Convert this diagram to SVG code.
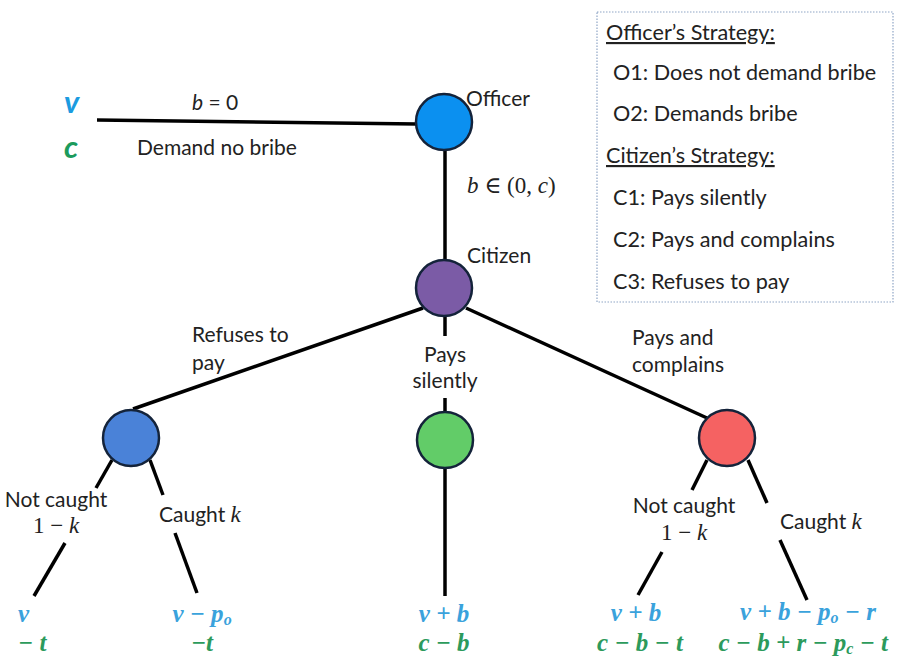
<svg xmlns="http://www.w3.org/2000/svg" width="897" height="660" viewBox="0 0 897 660">
<style>
.lbl{font-family:Lato,"Open Sans","Liberation Sans",sans-serif;font-size:21px;fill:#222}
.box{font-family:Lato,"Open Sans","Liberation Sans",sans-serif;font-size:21.6px;fill:#222}
.m{font-family:"Liberation Serif","DejaVu Serif",serif;font-size:23px;fill:#222}
.i{font-style:italic}
.pay{font-family:"Liberation Serif","DejaVu Serif",serif;font-size:25px;font-weight:bold;font-style:italic}
.pb{fill:#3AA2DC}
.pg{fill:#2C9A5C}
.edge{stroke:#000;stroke-width:3.5;fill:none;stroke-linecap:butt}
.node{stroke:#14233a;stroke-width:2.5}
.vc{font-family:Lato,"Liberation Sans",sans-serif;font-size:31px;font-weight:bold;font-style:italic}
</style>
<rect x="0" y="0" width="897" height="660" fill="#fff"/>

<g id="connectors">
<line class="edge" x1="97" y1="120" x2="417" y2="124"/>
<line class="edge" x1="445" y1="150" x2="445" y2="260"/>
<line class="edge" x1="423" y1="308" x2="133" y2="409"/>
<line class="edge" x1="466" y1="308" x2="707" y2="418"/>
<line class="edge" x1="445" y1="316" x2="445" y2="336"/>
<line class="edge" x1="445" y1="398" x2="445" y2="412"/>
<line class="edge" x1="445" y1="469" x2="445" y2="596"/>
<line class="edge" x1="112" y1="460" x2="96" y2="488"/>
<line class="edge" x1="65" y1="543" x2="34" y2="596"/>
<line class="edge" x1="150" y1="460" x2="163" y2="495"/>
<line class="edge" x1="175" y1="533" x2="197" y2="593"/>
<line class="edge" x1="707" y1="460" x2="692" y2="490"/>
<line class="edge" x1="662" y1="552" x2="638" y2="595"/>
<line class="edge" x1="748" y1="460" x2="767" y2="503"/>
<line class="edge" x1="780" y1="540" x2="807" y2="600"/>
</g>

<g id="officer">
<circle class="node" cx="444" cy="122" r="28" fill="#0B90F0"/>
<text class="lbl" x="466" y="106">Officer</text>
</g>
<g id="citizen">
<circle class="node" cx="444" cy="288" r="28" fill="#7B5BA6"/>
<text class="lbl" x="467" y="263">Citizen</text>
</g>
<g id="refuse-node">
<circle class="node" cx="131" cy="438" r="28" fill="#4A82D8"/>
</g>
<g id="silent-node">
<circle class="node" cx="445" cy="440" r="28" fill="#62CC68"/>
</g>
<g id="complain-node">
<circle class="node" cx="727" cy="438" r="28" fill="#F56262"/>
</g>

<g id="edge-labels">
<text class="vc" x="64" y="113" fill="#1B9BE0">v</text>
<text class="vc" x="64" y="158" fill="#1C9B5C">c</text>
<text class="lbl" x="192" y="110"><tspan class="i">b</tspan> = 0</text>
<text class="lbl" x="137" y="155">Demand no bribe</text>
<text class="m" x="467" y="193"><tspan class="i">b</tspan> ∈ (0, <tspan class="i">c</tspan>)</text>
<text class="lbl" x="192" y="342">Refuses to</text>
<text class="lbl" x="192" y="370">pay</text>
<text class="lbl" x="445" y="362" text-anchor="middle">Pays</text>
<text class="lbl" x="445" y="388" text-anchor="middle">silently</text>
<text class="lbl" x="632" y="345">Pays and</text>
<text class="lbl" x="632" y="372">complains</text>
<text class="lbl" x="56" y="507" text-anchor="middle">Not caught</text>
<text class="m" x="56" y="533" text-anchor="middle">1 − <tspan class="i">k</tspan></text>
<text class="lbl" x="159" y="522">Caught <tspan class="i" style="font-family:'Liberation Serif',serif;font-size:23px">k</tspan></text>
<text class="lbl" x="684" y="513" text-anchor="middle">Not caught</text>
<text class="m" x="684" y="540" text-anchor="middle">1 − <tspan class="i">k</tspan></text>
<text class="lbl" x="780" y="529">Caught <tspan class="i" style="font-family:'Liberation Serif',serif;font-size:23px">k</tspan></text>
</g>

<g id="payoffs">
<text class="pay pb" x="18" y="622">v</text>
<text class="pay pg" x="18" y="651">− t</text>
<text class="pay pb" x="202" y="622" text-anchor="middle">v − p<tspan font-size="16" dy="3">o</tspan></text>
<text class="pay pg" x="202" y="651" text-anchor="middle">−t</text>
<text class="pay pb" x="444" y="622" text-anchor="middle">v + b</text>
<text class="pay pg" x="444" y="651" text-anchor="middle">c − b</text>
<text class="pay pb" x="636" y="621" text-anchor="middle">v + b</text>
<text class="pay pg" x="640" y="651" text-anchor="middle">c − b − t</text>
<text class="pay pb" x="808" y="620" text-anchor="middle">v + b − p<tspan font-size="16" dy="3">o</tspan><tspan dy="-3"> − r</tspan></text>
<text class="pay pg" x="888" y="651" text-anchor="end">c − b + r − p<tspan font-size="16" dy="3">c</tspan><tspan dy="-3"> − t</tspan></text>
</g>

<g id="legend">
<rect x="597" y="12" width="296" height="290" fill="#fff" stroke="#8FA6C6" stroke-width="1.2" stroke-dasharray="1.5 1.5"/>
<text class="box" x="606" y="40" text-decoration="underline">Officer’s Strategy:</text>
<text class="box" x="613" y="80">O1: Does not demand bribe</text>
<text class="box" x="613" y="121">O2: Demands bribe</text>
<text class="box" x="606" y="163" text-decoration="underline">Citizen’s Strategy:</text>
<text class="box" x="613" y="205">C1: Pays silently</text>
<text class="box" x="613" y="247">C2: Pays and complains</text>
<text class="box" x="613" y="289">C3: Refuses to pay</text>
</g>
</svg>
